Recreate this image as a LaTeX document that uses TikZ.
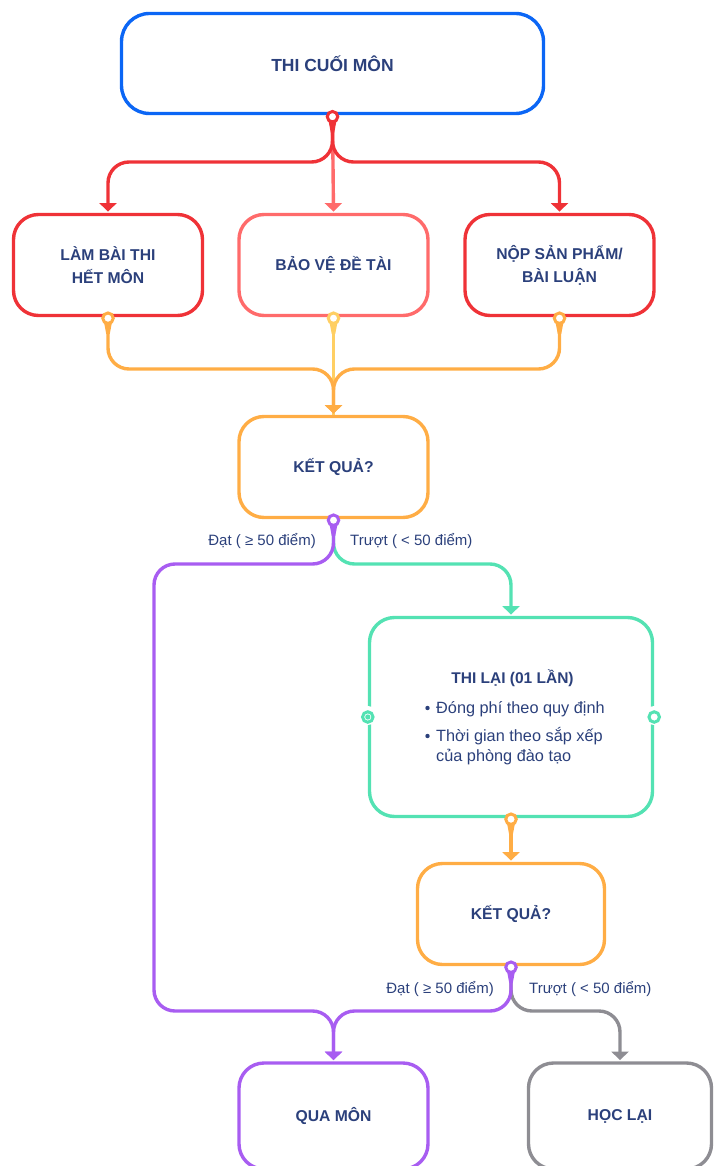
\documentclass[tikz,border=0pt]{standalone}
\usepackage{fontspec}
\setmainfont{Liberation Sans}
\usetikzlibrary{arrows.meta,backgrounds,calc}
\definecolor{cblue}{HTML}{0B66F5}
\definecolor{cred}{HTML}{EF3237}
\definecolor{clred}{HTML}{FF6B6B}
\definecolor{corange}{HTML}{FFAD45}
\definecolor{cyellow}{HTML}{FFCF63}
\definecolor{cpurple}{HTML}{A85DF1}
\definecolor{cgreen}{HTML}{54E2B3}
\definecolor{cgray}{HTML}{8E8D93}
\definecolor{ctext}{HTML}{2B407B}
\tikzset{
  box/.style={rectangle, rounded corners=25pt, line width=3.4pt, text=ctext,
    font=\bfseries\fontsize{15.7}{23}\selectfont, align=center, inner sep=0pt,
    minimum width=189pt, minimum height=101pt},
  mk/.style={circle, fill=white, line width=3pt, minimum size=10.5pt, inner sep=0pt},
  conn/.style={line width=3.4pt, rounded corners=21pt},
  tip/.style={-{Triangle[width=17pt,length=8.5pt]}, shorten >=1.2pt},
  lbl/.style={text=ctext, font=\fontsize{15}{18}\selectfont, inner sep=0pt},
  body/.style={text=ctext, font=\fontsize{16.3}{20}\selectfont, inner sep=0pt}
}
\newcommand{\neck}[2]{\fill[#2] ($(#1)+(-4.2,3)$) -- ($(#1)+(4.2,3)$) -- ($(#1)+(1.7,16)$) -- ($(#1)+(-1.7,16)$) -- cycle;}
\begin{document}
\begin{tikzpicture}[x=1pt,y=-1pt]
\useasboundingbox (0,0) rectangle (715,1166);
% boxes
\node[box, draw=cblue, minimum width=422pt, minimum height=100pt, rounded corners=28pt, font=\bfseries\fontsize{17.5}{23}\selectfont] (top) at (332.5,63.5) {THI CUỐI MÔN};
\node[box, draw=cred] (b1) at (108,265) {LÀM BÀI THI\\HẾT MÔN};
\node[box, draw=clred] (b2) at (333.5,265) {BẢO VỆ ĐỀ TÀI};
\node[box, draw=cred] (b3) at (559.5,265) {NỘP SẢN PHẨM/\\BÀI LUẬN};
\node[box, draw=corange] (r1) at (333.5,467) {KẾT QUẢ?};
\node[box, draw=cgreen, minimum width=283pt, minimum height=199pt] (thi) at (511,717) {};
\node[box, draw=corange, minimum width=187pt] (r2) at (511,914) {KẾT QUẢ?};
\node[box, draw=cpurple, minimum height=106pt] (qua) at (333.5,1116) {QUA MÔN};
\node[box, draw=cgray, minimum width=183pt, minimum height=106pt] (hoc) at (620,1116) {HỌC LẠI};
% text inside THI LAI
\node[text=ctext, font=\bfseries\fontsize{15.5}{18}\selectfont, inner sep=0pt, anchor=base] (tt) at (512.5,683) {THI LẠI (01 LẦN)};
\node[body, anchor=base west] (l1) at (436,713) {Đóng phí theo quy định};
\node[body, anchor=base west] (l2) at (436,741) {Thời gian theo sắp xếp};
\node[body, anchor=base west] (l3) at (436,761) {của phòng đào tạo};
\fill[ctext] (427.5,708) circle (2.2);
\fill[ctext] (427.5,736) circle (2.2);
% labels
\node[lbl, anchor=base east] (d1) at (316,545) {Đạt ( ≥ 50 điểm)};
\node[lbl, anchor=base west] (t1) at (350,545) {Trượt ( < 50 điểm)};
\node[lbl, anchor=base east] (d2) at (494,993) {Đạt ( ≥ 50 điểm)};
\node[lbl, anchor=base west] (t2) at (529,993) {Trượt ( < 50 điểm)};
% markers
\node[mk, draw=cred] (m1) at ($(top.south)+(0,1.5)$) {};
\node[mk, draw=corange] (m2a) at ($(b1.south)+(0,1)$) {};
\node[mk, draw=cyellow] (m2b) at ($(b2.south)+(0,1)$) {};
\node[mk, draw=corange] (m2c) at ($(b3.south)+(0,1)$) {};
\node[mk, draw=cpurple] (m3) at ($(r1.south)+(0,1)$) {};
\node[mk, draw=corange] (m4) at ($(thi.south)+(0,1)$) {};
\node[mk, draw=cpurple] (m5) at ($(r2.south)+(0,1)$) {};
\fill[white] ($(thi.west)+(0,-1.5)$) circle (9.5);
\fill[white] ($(thi.east)+(0,-1.5)$) circle (9.5);
\node[mk, draw=cgreen] (ml) at (thi.west) {};
\fill[cgreen] (ml.center) circle (2.6);
\node[mk, draw=cgreen] (mr) at (thi.east) {};
% level coordinates
\coordinate (ya) at (0,162);
\coordinate (yb) at (0,369);
\coordinate (yc) at (0,564);
\coordinate (yd) at (0,1011);
\coordinate (xl) at (154,0);
\begin{scope}[on background layer]
\draw[conn, tip, clred] (m1.center) -- (b2.north);
\draw[conn, tip, cred] (m1.center) -- (m1 |- ya) -| (b1.north);
\draw[conn, tip, cred] (m1.center) -- (m1 |- ya) -| (b3.north);
\draw[conn, cyellow] (m2b.center) -- (r1.north);
\draw[conn, tip, corange] (m2a.center) -- (m2a |- yb) -| (r1.north);
\draw[conn, tip, corange] (m2c.center) -- (m2c |- yb) -| (r1.north);
\draw[conn, tip, cgreen] (m3.center) -- (m3 |- yc) -| (thi.north);
\draw[conn, tip, cpurple] (m3.center) -- (m3 |- yc) -- (xl |- yc) -- (xl |- yd) -| (qua.north);
\draw[conn, tip, corange] (m4.center) -- (r2.north);
\draw[conn, tip, cgray] (m5.center) -- (m5 |- yd) -| (hoc.north);
\draw[conn, tip, cpurple] (m5.center) -- (m5 |- yd) -| (qua.north);
\neck{m1}{cred}
\neck{m2a}{corange}
\neck{m2b}{cyellow}
\neck{m2c}{corange}
\neck{m3}{cpurple}
\neck{m4}{corange}
\neck{m5}{cpurple}
\end{scope}
\end{tikzpicture}
\end{document}
